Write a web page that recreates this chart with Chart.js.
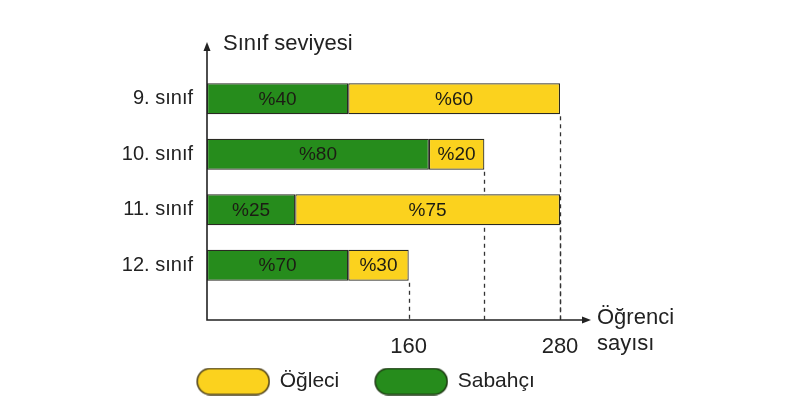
<!DOCTYPE html>
<html><head><meta charset="utf-8">
<script src="https://cdn.jsdelivr.net/npm/chart.js@4.4.1/dist/chart.umd.min.js"></script>
<style>html,body{margin:0;padding:0;background:#fff;}canvas{display:block}</style>
</head><body>
<canvas id="c" width="786" height="416"></canvas>
<script>
const categories = ['9. sınıf', '10. sınıf', '11. sınıf', '12. sınıf'];
const totals = [280, 220, 280, 160];
const sabahciPct = [40, 80, 25, 70];
const ogleciPct = [60, 20, 75, 30];
const xTickValues = [160, 280];
const seriesNames = ['Sabahçı', 'Öğleci'];
const yAxisTitle = 'Sınıf seviyesi';
const xAxisTitle = ['Öğrenci', 'sayısı'];

const sabahciCounts = totals.map((t, i) => t * sabahciPct[i] / 100);
const ogleciCounts = totals.map((t, i) => t * ogleciPct[i] / 100);
const pctLists = [sabahciPct, ogleciPct];

const FONT = '"Liberation Sans", Arial, Helvetica, sans-serif';
const GREEN = '#268c1c';
const YELLOW = '#fbd21e';
const INK = '#222';

function pill(fill, stroke) {
  const c = document.createElement('canvas');
  c.width = 100; c.height = 28;
  const g = c.getContext('2d');
  const x = 27, y = 1, w = 72, h = 26, r = 13;
  g.beginPath();
  g.moveTo(x + r, y);
  g.lineTo(x + w - r, y);
  g.arc(x + w - r, y + r, r, -Math.PI / 2, Math.PI / 2);
  g.lineTo(x + r, y + h);
  g.arc(x + r, y + r, r, Math.PI / 2, Math.PI * 1.5);
  g.closePath();
  g.fillStyle = fill; g.fill();
  g.lineWidth = 1.6; g.strokeStyle = stroke; g.stroke();
  return c;
}
const pills = [pill(GREEN, '#1d3a12'), pill(YELLOW, '#4d4018')];

const AXIS_DROP = 27;

const decor = {
  id: 'decor',
  beforeDatasetsDraw(chart) {
    const ctx = chart.ctx, xs = chart.scales.x;
    const axisY = chart.chartArea.bottom + AXIS_DROP;
    const meta = chart.getDatasetMeta(1);
    ctx.save();
    ctx.strokeStyle = '#333'; ctx.lineWidth = 1.3; ctx.setLineDash([4, 4]);
    meta.data.forEach((el, i) => {
      const x = Math.round(xs.getPixelForValue(totals[i])) + 0.5;
      ctx.beginPath();
      ctx.moveTo(x, el.y + el.height / 2 + 2);
      ctx.lineTo(x, axisY);
      ctx.stroke();
    });
    ctx.restore();
  },
  afterDatasetsDraw(chart) {
    const ctx = chart.ctx;
    ctx.save();
    ctx.font = '19px ' + FONT;
    ctx.fillStyle = '#1c1c14';
    ctx.textAlign = 'center'; ctx.textBaseline = 'middle';
    [0, 1].forEach(d => {
      chart.getDatasetMeta(d).data.forEach((el, i) => {
        ctx.fillText('%' + pctLists[d][i], (el.x + el.base) / 2, el.y + 1);
      });
    });
    ctx.restore();
  },
  afterDraw(chart) {
    const ctx = chart.ctx, a = chart.chartArea, xs = chart.scales.x;
    const ox = a.left, oy = a.bottom + AXIS_DROP;
    const topY = 42, rightX = xs.getPixelForValue(280) + 31;
    ctx.save();
    ctx.strokeStyle = INK; ctx.fillStyle = INK; ctx.lineWidth = 1.6;
    ctx.beginPath();
    ctx.moveTo(ox, topY + 6); ctx.lineTo(ox, oy); ctx.lineTo(rightX - 7, oy);
    ctx.stroke();
    ctx.beginPath();
    ctx.moveTo(ox, topY); ctx.lineTo(ox - 3.5, topY + 9); ctx.lineTo(ox + 3.5, topY + 9); ctx.closePath(); ctx.fill();
    ctx.beginPath();
    ctx.moveTo(rightX, oy); ctx.lineTo(rightX - 9, oy - 3.5); ctx.lineTo(rightX - 9, oy + 3.5); ctx.closePath(); ctx.fill();
    ctx.font = '22px ' + FONT;
    ctx.textAlign = 'left'; ctx.textBaseline = 'alphabetic';
    ctx.fillText(yAxisTitle, ox + 16, 50);
    ctx.fillText(xAxisTitle[0], rightX + 6, oy + 4);
    ctx.fillText(xAxisTitle[1], rightX + 6, oy + 30);
    ctx.restore();
  }
};

new Chart(document.getElementById('c'), {
  type: 'bar',
  data: {
    labels: categories,
    datasets: [
      { label: seriesNames[0], data: sabahciCounts, backgroundColor: GREEN, borderColor: '#2a2a22', borderWidth: 1.2, borderSkipped: false },
      { label: seriesNames[1], data: ogleciCounts, backgroundColor: YELLOW, borderColor: '#2a2a22', borderWidth: 1.2, borderSkipped: false }
    ]
  },
  options: {
    indexAxis: 'y',
    responsive: false,
    animation: false,
    devicePixelRatio: 1,
    categoryPercentage: 1,
    barPercentage: 0.56,
    layout: { padding: { left: 60, right: 140, top: 71, bottom: 14 } },
    scales: {
      x: {
        stacked: true, min: 0, max: 280 * (646 - 207) / (560 - 207),
        grid: { display: false, drawTicks: false }, border: { display: false },
        ticks: { font: { size: 22, family: FONT }, color: INK, padding: 41, autoSkip: false, maxRotation: 0 },
        afterBuildTicks: s => { s.ticks = xTickValues.map(v => ({ value: v })); },
        afterFit: s => { s.height = 68; }
      },
      y: {
        stacked: true,
        grid: { display: false, drawTicks: false }, border: { display: false },
        ticks: { font: { size: 20, family: FONT }, color: INK, padding: 14 },
        afterFit: s => { s.width = 147; }
      }
    },
    plugins: {
      tooltip: { enabled: false },
      legend: {
        position: 'bottom',
        reverse: true,
        labels: {
          usePointStyle: true,
          pointStyleWidth: 98,
          padding: 10,
          color: INK,
          font: { size: 21, family: FONT },
          generateLabels: chart => {
            const items = Chart.defaults.plugins.legend.labels.generateLabels(chart);
            items.forEach(it => { it.pointStyle = pills[it.datasetIndex]; });
            return items;
          }
        }
      }
    }
  },
  plugins: [decor]
});
</script>
</body></html>
